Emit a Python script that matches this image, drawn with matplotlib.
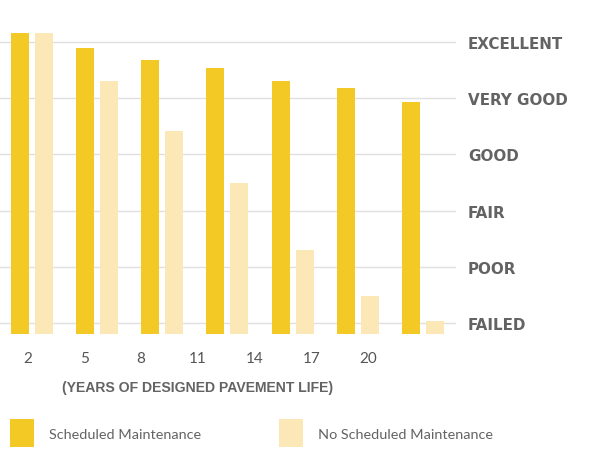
import numpy as np
import matplotlib
matplotlib.use('Agg')
import matplotlib.pyplot as plt
from matplotlib.patches import Rectangle

# Pavement condition rating (0 = FAILED ... 5 = EXCELLENT)
years = ['2', '5', '8', '11', '14', '17', '20']
scheduled = [5.15, 4.89, 4.67, 4.54, 4.30, 4.18, 3.93]
no_scheduled = [5.15, 4.30, 3.41, 2.49, 1.30, 0.48, 0.04]
ratings = ['FAILED', 'POOR', 'FAIR', 'GOOD', 'VERY GOOD', 'EXCELLENT']

c_sched = '#F2C925'
c_nosched = '#FBE8B6'
c_text = '#636363'

W, H = 600, 464
fig = plt.figure(figsize=(W / 100, H / 100), dpi=100)

# axes placed in pixel terms
px_left, px_right = 0, 456
px_top, px_bottom = 14.5, 335
ax = fig.add_axes([px_left / W, 1 - px_bottom / H,
                   (px_right - px_left) / W, (px_bottom - px_top) / H])

base = -0.19
x = np.arange(len(years))
bw = 0.276
off = 0.184
ax.bar(x - off, np.array(scheduled) - base, bottom=base, width=bw,
       color=c_sched, zorder=3)
ax.bar(x + off, np.array(no_scheduled) - base, bottom=base, width=bw,
       color=c_nosched, zorder=3)

ax.set_xlim(-0.488, 6.506)
ax.set_ylim(base, 5.5)

# horizontal grid at each rating level
ax.set_yticks(range(len(ratings)))
ax.set_yticklabels(ratings)
ax.yaxis.tick_right()
ax.grid(axis='y', color='#e0e0e0', linewidth=1.0, zorder=0)
ax.tick_params(axis='y', length=0, pad=8.5, labelsize=10.9, labelcolor=c_text)
for t in ax.get_yticklabels():
    t.set_fontweight('bold')

# x tick labels sit on a slightly tighter spacing than the bars
ax.set_xticks(np.arange(len(years)) * 0.871 - 0.069)
ax.set_xticklabels(years, fontfamily='Lato', fontsize=11, color='#555555')
ax.tick_params(axis='x', length=0, pad=12)

for s in ax.spines.values():
    s.set_visible(False)

fig.text(198 / W, 1 - 388.5 / H, '(YEARS OF DESIGNED PAVEMENT LIFE)',
         ha='center', va='center', fontsize=10.1, fontweight='bold', color=c_text,
         fontfamily='Liberation Sans')

# legend
for x0, col, label, tx in [(9.7, c_sched, 'Scheduled Maintenance', 49.3),
                           (278.7, c_nosched, 'No Scheduled Maintenance', 318.3)]:
    fig.add_artist(Rectangle((x0 / W, 1 - 447.7 / H), 24.3 / W, 27.7 / H,
                             transform=fig.transFigure, color=col, lw=0))
    fig.text(tx / W, 1 - 435 / H, label, ha='left', va='center',
             fontfamily='Lato', fontsize=10.4, color=c_text)

fig.savefig('out.png', dpi=100)
